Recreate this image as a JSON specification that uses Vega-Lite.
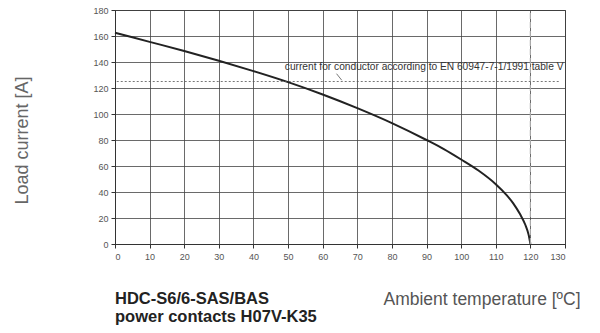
{
  "$schema": "https://vega.github.io/schema/vega-lite/v6.json",
  "width": 450,
  "height": 234,
  "autosize": "none",
  "padding": {"left": 115, "top": 10, "right": 35, "bottom": 89},
  "background": "white",
  "config": {
    "font": "Liberation Sans",
    "view": {"stroke": "#333", "strokeWidth": 1},
    "axis": {
      "grid": true, "gridColor": "#444", "gridWidth": 0.8, "gridOpacity": 1,
      "domain": true, "domainColor": "#333",
      "tickColor": "#333", "tickSize": 4, "labelOverlap": false,
      "labelFont": "Liberation Sans", "labelFontSize": 9, "labelColor": "#555",
      "titleFont": "Liberation Sans", "titleFontWeight": "normal", "titleColor": "#555"
    }
  },
  "title": {
    "text": ["HDC-S6/6-SAS/BAS", "power contacts H07V-K35"],
    "orient": "bottom", "anchor": "start", "frame": "group", "offset": -17,
    "font": "Liberation Sans", "fontSize": 16.5, "fontWeight": "bold", "color": "#222", "lineHeight": 18
  },
  "datasets": {
    "curve": [
      {"t": 0, "i": 162.5}, {"t": 10, "i": 155.5}, {"t": 20, "i": 148.5}, {"t": 30, "i": 141},
      {"t": 40, "i": 133}, {"t": 50, "i": 124.5}, {"t": 60, "i": 115}, {"t": 70, "i": 104.5},
      {"t": 80, "i": 93}, {"t": 90, "i": 80}, {"t": 95, "i": 73}, {"t": 100, "i": 65},
      {"t": 105, "i": 56.5}, {"t": 110, "i": 46}, {"t": 113, "i": 38}, {"t": 115, "i": 31.5},
      {"t": 117, "i": 23}, {"t": 118.5, "i": 15}, {"t": 119.5, "i": 7}, {"t": 120, "i": 0}
    ],
    "limit": [{"t": 0.5, "t2": 128.5, "i": 125}],
    "vline": [{"t": 120, "i": 0, "i2": 180}],
    "note": [{"t": 89.3, "i": 136.5, "label": "current for conductor according to EN 60947-7-1/1991 table V"}],
    "leader": [{"t": 64, "i": 131}, {"t": 65.5, "i": 126}]
  },
  "encoding": {
    "x": {
      "field": "t", "type": "quantitative",
      "scale": {"domain": [0, 130], "nice": false},
      "axis": {
        "values": [0,10,20,30,40,50,60,70,80,90,100,110,120,130],
        "title": "Ambient temperature [ºC]",
        "titleFontSize": 17.5, "titleX": 465, "titleAlign": "right", "titleY": 60, "titleBaseline": "alphabetic",
        "labelPadding": 4
      }
    },
    "y": {
      "field": "i", "type": "quantitative",
      "scale": {"domain": [0, 180], "nice": false},
      "axis": {
        "values": [0,20,40,60,80,100,120,140,160,180],
        "title": "Load current [A]",
        "titleFontSize": 18, "titleColor": "#666", "titleX": -93, "titleY": 130, "titleAlign": "center", "titleBaseline": "middle",
        "labelPadding": 3
      }
    }
  },
  "layer": [
    {
      "data": {"name": "curve"},
      "mark": {"type": "line", "color": "#222", "strokeWidth": 2, "interpolate": "monotone"}
    },
    {
      "data": {"name": "vline"},
      "mark": {"type": "rule", "color": "#aaa", "strokeDash": [6, 3], "strokeWidth": 1.2},
      "encoding": {"y2": {"field": "i2"}}
    },
    {
      "data": {"name": "limit"},
      "mark": {"type": "rule", "color": "#555", "strokeDash": [2, 2], "strokeWidth": 0.8},
      "encoding": {"x2": {"field": "t2"}}
    },
    {
      "data": {"name": "leader"},
      "mark": {"type": "line", "color": "#555", "strokeWidth": 0.8}
    },
    {
      "data": {"name": "note"},
      "mark": {"type": "text", "fontSize": 10.2, "color": "#333", "align": "center", "baseline": "middle", "font": "Liberation Sans"},
      "encoding": {"text": {"field": "label"}}
    }
  ]
}
